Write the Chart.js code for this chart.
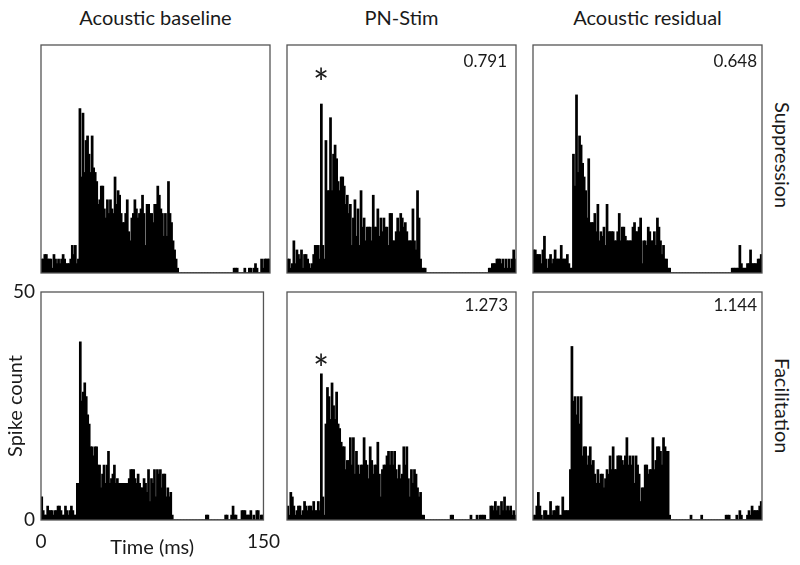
<!DOCTYPE html>
<html lang="en">
<head>
    <meta charset="UTF-8">
    <title>PSTH suppression / facilitation</title>
    <script src="https://cdn.jsdelivr.net/npm/chart.js"></script>
    <style>
        body {
            margin: 0;
            width: 800px;
            height: 565px;
            position: relative;
            overflow: hidden;
            background: #fff;
            font-family: Lato, "Open Sans", sans-serif;
            color: #1a1a1a;
        }
        .panel { position: absolute; }
        .col-title {
            position: absolute;
            top: 6px;
            width: 229px;
            text-align: center;
            font-size: 20px;
            line-height: 22px;
        }
        .row-title {
            position: absolute;
            left: 772px;
            height: 228px;
            writing-mode: vertical-rl;
            text-align: center;
            font-size: 20px;
            line-height: 22px;
        }
        .ratio {
            position: absolute;
            width: 80px;
            text-align: right;
            font-size: 17px;
            line-height: 20px;
        }
        .star {
            position: absolute;
            width: 30px;
            text-align: center;
            font-size: 38px;
            line-height: 38px;
        }
    </style>
</head>
<body>
    <div class="col-title" style="left:41px">Acoustic baseline</div>
    <div class="col-title" style="left:287px">PN-Stim</div>
    <div class="col-title" style="left:533px">Acoustic residual</div>

    <div class="row-title" style="top:41px">Suppression</div>
    <div class="row-title" style="top:292px">Facilitation</div>

    <div class="panel" style="left:0px;top:23px"><canvas id="supBase" width="290" height="295"></canvas></div>
    <div class="panel" style="left:246px;top:23px"><canvas id="supStim" width="290" height="295"></canvas></div>
    <div class="panel" style="left:492px;top:23px"><canvas id="supResid" width="290" height="295"></canvas></div>
    <div class="panel" style="left:0px;top:270px"><canvas id="facBase" width="290" height="295"></canvas></div>
    <div class="panel" style="left:246px;top:270px"><canvas id="facStim" width="290" height="295"></canvas></div>
    <div class="panel" style="left:492px;top:270px"><canvas id="facResid" width="290" height="295"></canvas></div>

    <div class="ratio" style="left:427px;top:51px">0.791</div>
    <div class="ratio" style="left:677px;top:51px">0.648</div>
    <div class="ratio" style="left:428px;top:295px">1.273</div>
    <div class="ratio" style="left:677px;top:295px">1.144</div>

    <div class="star" style="left:306px;top:63px">*</div>
    <div class="star" style="left:306px;top:349px">*</div>

    <script>
        // spike counts per 1 ms bin, 0-150 ms (150 bins)
        const supBaseline = [
            3,3,4,4,3,3,3,1,4,3,2,3,2,3,4,3,2,2,2,3,6,4,6,2,3,
            36,21,35,22,29,30,26,22,30,23,22,20,15,16,19,19,14,12,16,13,16,14,13,21,15,
            18,17,13,11,11,13,16,9,7,12,13,16,14,12,13,14,17,13,6,15,15,13,13,11,15,
            15,19,17,14,13,8,13,8,20,13,11,7,5,3,1,0,0,0,0,0,0,0,0,0,0,
            0,0,0,0,0,0,0,0,0,0,0,0,0,0,0,0,0,0,0,0,0,0,0,0,0,
            0,1,1,1,0,0,0,0,1,0,0,1,1,0,1,2,1,0,0,3,1,3,3,3,3
        ];
        const supStim = [
            3,3,1,2,7,2,5,4,3,5,1,4,4,3,2,1,2,4,6,6,6,3,37,6,3,
            29,18,18,34,18,26,28,25,20,18,21,21,19,15,17,13,15,6,12,16,8,14,6,18,10,
            12,7,10,10,10,7,17,10,10,14,8,12,9,12,10,10,6,13,13,7,7,9,12,9,13,
            12,10,11,9,7,7,7,14,7,5,18,12,3,1,1,1,0,0,0,0,0,0,0,0,0,
            0,0,0,0,0,0,0,0,0,0,0,0,0,0,0,0,0,0,0,0,0,0,0,0,0,
            0,0,0,0,0,0,0,1,1,2,2,2,3,3,3,2,3,1,3,1,3,1,3,5,3
        ];
        const supResidual = [
            5,5,4,4,4,2,5,8,3,1,3,4,2,3,5,3,3,3,6,3,3,3,4,2,1,
            1,26,19,39,22,30,28,24,21,18,12,25,11,11,11,13,9,15,7,9,8,10,6,15,9,
            9,9,9,7,7,9,13,7,10,10,8,7,7,7,7,10,11,9,9,10,12,2,7,7,6,
            10,9,7,7,9,6,12,10,7,4,6,3,3,1,1,0,0,0,0,0,0,0,0,0,0,
            0,0,0,0,0,0,0,0,0,0,0,0,0,0,0,0,0,0,0,0,0,0,0,0,0,
            0,0,0,0,0,1,1,1,1,1,6,2,1,1,1,2,2,5,2,2,2,2,3,3,4
        ];
        const facBaseline = [
            5,2,1,1,3,2,2,2,1,2,2,3,3,2,1,1,3,2,1,2,3,2,1,1,8,
            8,39,26,28,30,27,23,21,16,16,14,16,16,12,12,7,10,12,8,12,15,8,9,10,12,
            8,9,8,8,8,8,8,8,8,9,11,11,11,9,8,10,8,7,7,9,8,6,11,4,9,
            8,11,5,11,10,11,7,10,10,5,7,5,6,1,0,0,0,0,0,0,0,0,0,0,0,
            0,0,0,0,0,0,0,0,0,0,0,1,1,0,0,0,0,0,0,0,0,0,0,0,1,
            1,0,0,1,3,1,1,0,0,0,2,2,2,1,1,1,2,0,1,0,2,2,0,1,1
        ];
        const facStim = [
            3,1,6,5,3,1,2,3,3,1,2,4,3,2,3,3,2,4,2,2,4,2,32,5,1,
            21,29,27,22,30,25,22,28,21,20,17,16,16,11,13,13,18,12,18,10,15,12,10,12,12,
            18,13,12,9,16,13,10,12,12,17,10,5,11,12,12,14,15,12,15,12,15,11,9,12,9,
            10,16,12,16,9,5,11,8,11,10,7,5,6,1,1,0,0,0,0,0,0,0,0,0,0,
            0,0,0,0,0,0,0,1,1,0,0,0,0,0,0,0,0,0,0,0,1,0,0,0,1,
            0,1,1,1,1,0,0,0,3,3,2,4,2,3,1,4,2,5,2,3,2,3,1,2,1
        ];
        const facResidual = [
            1,1,3,6,3,1,0,2,2,1,1,4,1,2,2,3,3,1,1,5,2,2,2,2,11,
            38,26,27,23,27,21,27,14,16,16,12,14,16,12,13,10,8,11,8,10,10,7,9,11,10,
            14,11,16,11,11,14,14,14,13,12,14,18,12,14,12,14,8,14,12,10,4,7,7,12,12,
            10,11,11,18,11,13,16,16,15,12,18,16,15,15,1,0,0,0,0,0,0,0,0,0,0,
            0,0,0,1,0,0,0,0,0,0,1,0,0,0,0,0,0,0,0,0,0,0,0,0,0,
            0,1,1,1,0,0,0,0,1,0,2,1,0,0,0,1,2,1,3,2,2,2,2,3,4
        ];

        const timeTicks = [0, 150];
        const countTicks = [0, 50];
        const binMs = 1;

        Chart.defaults.font.family = 'Lato, "Open Sans", sans-serif';
        Chart.defaults.color = '#1a1a1a';

        // box around each plot area
        const framePlugin = {
            id: 'panelFrame',
            afterDatasetsDraw(chart) {
                const { ctx, chartArea: a } = chart;
                ctx.save();
                ctx.strokeStyle = '#555';
                ctx.lineWidth = 1.3;
                ctx.strokeRect(a.left, a.top, a.right - a.left, a.bottom - a.top);
                ctx.restore();
            }
        };

        function makePanel(canvasId, counts, showAxes) {
            const points = counts.map((c, i) => ({ x: (i + 0.5) * binMs, y: c }));
            return new Chart(document.getElementById(canvasId), {
                type: 'bar',
                data: {
                    datasets: [{
                        data: points,
                        backgroundColor: '#000',
                        borderWidth: 0,
                        inflateAmount: 0.6,   // close the hairline seams between 1.5px bins
                        barPercentage: 1,
                        categoryPercentage: 1
                    }]
                },
                options: {
                    responsive: false,
                    animation: false,
                    layout: { padding: { top: 22, right: 20, bottom: 0, left: 0 } },
                    plugins: {
                        legend: { display: false },
                        tooltip: { enabled: false }
                    },
                    scales: {
                        x: {
                            type: 'linear',
                            min: timeTicks[0],
                            max: timeTicks[timeTicks.length - 1],
                            offset: false,
                            grid: { display: false, drawTicks: false },
                            border: { display: false },
                            afterBuildTicks: s => { s.ticks = timeTicks.map(v => ({ value: v })); },
                            afterFit: s => { s.height = 45; },
                            ticks: {
                                display: showAxes,
                                autoSkip: false,
                                maxRotation: 0,
                                padding: 10,
                                font: { size: 19 }
                            },
                            title: {
                                display: showAxes,
                                text: 'Time (ms)',
                                padding: { top: 0, bottom: 5 },
                                font: { size: 20 }
                            }
                        },
                        y: {
                            min: countTicks[0],
                            max: countTicks[countTicks.length - 1],
                            grid: { display: false, drawTicks: false },
                            border: { display: false },
                            afterBuildTicks: s => { s.ticks = countTicks.map(v => ({ value: v })); },
                            afterFit: s => { s.width = 41; },
                            ticks: {
                                display: showAxes,
                                padding: 6,
                                font: { size: 19 }
                            },
                            title: {
                                display: showAxes,
                                text: 'Spike count',
                                padding: { top: 4, bottom: 0 },
                                font: { size: 20 }
                            }
                        }
                    }
                },
                plugins: [framePlugin]
            });
        }

        makePanel('supBase', supBaseline, false);
        makePanel('supStim', supStim, false);
        makePanel('supResid', supResidual, false);
        makePanel('facBase', facBaseline, true);
        makePanel('facStim', facStim, false);
        makePanel('facResid', facResidual, false);
    </script>
</body>
</html>
